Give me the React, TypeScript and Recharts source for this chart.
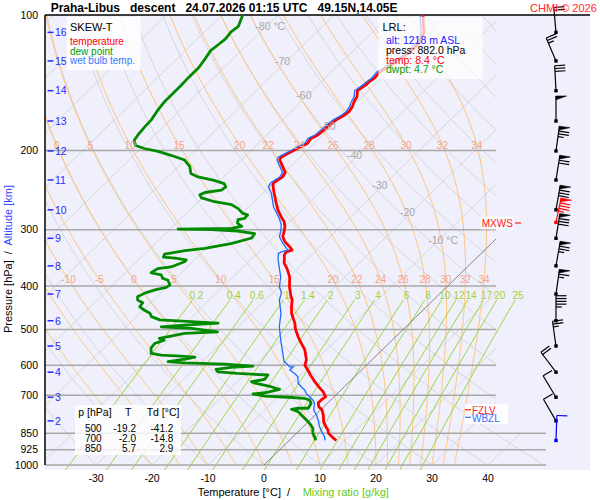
import React from 'react';
import { ComposedChart, Line, Scatter, XAxis, YAxis } from 'recharts';

// ---------------- data ----------------
// [pressure hPa, temperature °C], surface (LRL) upward
const temperatureProfile: [number, number][] = [
  [882, 8.4], [866, 7.0], [850, 5.7], [836, 5.0], [823, 4.1], [803, 2.8], [774, 1.4], [755, 0.3],
  [742, -0.9], [728, -1.7], [717, -1.7], [705, -1.5], [699, -2.0], [687, -2.9], [674, -4.2], [653, -6.2],
  [631, -8.2], [615, -9.6], [600, -11.0], [584, -11.7], [555, -13.8], [536, -15.7], [519, -17.4], [500, -19.2],
  [484, -20.5], [460, -22.9], [445, -24.1], [430, -25.2], [423, -26.0], [402, -28.1], [382, -29.9], [366, -31.9],
  [356, -33.4], [341, -34.9], [336, -35.1], [333, -34.4], [328, -35.3], [319, -37.2], [311, -38.5], [303, -39.2],
  [295, -40.0], [288, -41.0], [281, -42.4], [271, -44.3], [262, -45.8], [249, -48.0], [239, -49.7], [236, -50.0],
  [233, -49.8], [229, -49.5], [224, -49.8], [215, -51.9], [210, -53.1], [207, -53.4], [203, -52.8], [199, -52.2],
  [196, -51.8], [193, -51.2], [188, -51.5], [185, -50.9], [180, -50.7], [176, -50.7], [171, -50.4], [167, -49.8],
  [164, -49.6], [160, -49.9], [156, -50.5], [152, -50.9], [147, -52.0], [146, -51.8], [143, -51.5], [141, -51.5],
  [138, -51.2], [134, -51.4], [131, -51.0], [127, -50.4], [123, -49.8], [120, -49.6], [115, -49.7], [112, -50.3],
  [109, -50.8], [107, -51.6], [102, -53.4], [100, -54.1],
];

const wetBulbProfile: [number, number][] = [
  [882, 6.4], [865, 5.6], [843, 4.2], [822, 2.9], [794, 1.4], [774, 0.2], [755, -1.2], [729, -2.3],
  [717, -3.2], [705, -4.4], [693, -5.6], [681, -6.5], [670, -7.7], [658, -8.9], [637, -10.1], [626, -11.3],
  [615, -12.8], [605, -12.8], [605, -13.4], [594, -14.7], [589, -15.4], [565, -17.1], [537, -19.2], [528, -19.9],
  [493, -22.6], [460, -24.8], [430, -27.5], [415, -28.4], [402, -29.9], [382, -31.5], [363, -33.6], [350, -35.1],
  [339, -36.2], [336, -36.0], [333, -35.1], [330, -35.7], [322, -37.2], [311, -39.1], [303, -39.8], [293, -40.9],
  [283, -42.5], [267, -45.6], [249, -48.5], [241, -50.2], [236, -50.5], [233, -50.3], [229, -50.0], [224, -50.3],
  [215, -52.4], [210, -53.6], [207, -53.9], [203, -53.3], [199, -52.7], [196, -52.3], [193, -51.7], [188, -52.0],
  [185, -51.4], [180, -51.2], [176, -51.2], [171, -50.9], [167, -50.3], [164, -50.1], [160, -50.4], [156, -51.0],
  [152, -51.4], [147, -52.5], [146, -52.3], [143, -52.0], [141, -52.0], [138, -51.7], [134, -51.9], [131, -51.5],
  [127, -50.9], [123, -50.3], [120, -50.1], [115, -50.2], [112, -50.8], [109, -51.3], [107, -52.1], [102, -53.9],
  [100, -54.6],
];

const dewPointProfile: [number, number][] = [
  [882, 4.7], [873, 4.3], [850, 2.9], [829, 2.0], [808, 0.5], [794, -0.7], [774, -2.5], [761, -3.7],
  [752, -5.3], [748, -4.3], [748, -2.5], [729, -2.9], [717, -3.8], [711, -5.0], [707, -8.1], [703, -12.5],
  [695, -15.0], [691, -13.1], [679, -11.1], [670, -13.1], [658, -16.6], [653, -17.5], [645, -15.6], [631, -15.8],
  [626, -21.5], [621, -25.3], [613, -26.1], [607, -23.8], [603, -20.1], [597, -25.5], [593, -32.9], [589, -36.1],
  [582, -33.5], [576, -32.1], [573, -34.8], [570, -38.5], [565, -40.6], [550, -41.6], [537, -41.8], [528, -40.7],
  [523, -41.9], [510, -38.3], [506, -32.7], [497, -38.0], [493, -43.7], [489, -39.8], [484, -34.2], [476, -45.2],
  [468, -47.3], [460, -48.2], [453, -49.7], [445, -51.2], [436, -51.4], [430, -52.8], [423, -53.4], [415, -52.8],
  [408, -51.6], [403, -50.0], [398, -49.8], [388, -51.1], [385, -52.3], [378, -53.2], [374, -55.4], [366, -55.0],
  [363, -52.9], [353, -51.4], [350, -51.5], [347, -53.8], [345, -56.1], [340, -56.4], [334, -53.4], [330, -50.3],
  [322, -46.5], [313, -43.8], [306, -44.1], [302, -47.6], [300, -52.5], [299, -58.6], [298, -49.2], [295, -47.7],
  [290, -49.1], [285, -49.6], [283, -48.7], [278, -48.8], [276, -49.9], [269, -51.7], [264, -53.5], [260, -57.1],
  [255, -60.1], [251, -61.0], [248, -60.5], [245, -58.0], [241, -57.8], [237, -58.7], [233, -61.1], [229, -64.6],
  [225, -66.5], [217, -68.0], [210, -70.1], [205, -73.4], [201, -76.4], [198, -79.4], [195, -81.5], [190, -82.7],
  [185, -83.0], [177, -83.3], [171, -83.4], [163, -84.0], [155, -84.4], [149, -84.4], [144, -84.4], [139, -84.5],
  [136, -84.5], [131, -84.5], [126, -84.9], [120, -85.5], [116, -85.2], [113, -85.0], [109, -85.3], [106, -85.0],
  [100, -86.3],
];

const pressureTicks = [100, 200, 300, 400, 500, 600, 700, 850, 925, 1000];
const temperatureTicks = [-30, -20, -10, 0, 10, 20, 30, 40];
const isobarsUpper = [200, 300, 400, 500, 600, 700];
const isobarsLower = [850, 925, 1000];

const isotherms = [-120, -110, -100, -90, -80, -70, -60, -50, -40, -30, -20, -10, 10, 20, 30, 40, 50];
const isothermLabels = [-80, -70, -60, -50, -40, -30, -20, -10];
const isothermLabelP = [106, 127, 151, 177, 205, 239, 275, 316];
const dryAdiabats = [-40, -30, -20, -10, 0, 10, 20, 30, 40, 50, 60, 70, 80, 90, 100, 110, 120, 130, 140, 150, 160, 170, 180];
const moistAdiabats = [-20, -15, -10, -5, 0, 5, 10, 15, 20, 22, 24, 26, 28, 30, 32, 34];
const moistLabelsHigh = [0, 5, 10, 15, 20, 22, 24, 26, 28, 30, 32, 34];
const moistLabelsLow = [-10, -5, 0, 5, 10, 15, 20, 22, 24, 26, 28, 30, 32, 34];
const mixingRatios = [0.2, 0.4, 0.6, 1, 1.4, 2, 3, 4, 6, 8, 10, 12, 14, 17, 20, 25];

const altitudeKm = [16, 15, 14, 13, 12, 11, 10, 9, 8, 7, 6, 5, 4, 3, 2];
const altitudeP = [109.3, 126.5, 147.3, 172, 200.5, 232.6, 271, 313.5, 361, 417, 478, 544, 622, 707, 798];
const windDirection = [355, 337, 357, 0, 8, 9, 10, 9, 10, 8, 0, 352, 323, 329, 330];
const windSpeed = [20, 25, 30, 50, 75, 70, 80, 80, 75, 65, 45, 25, 20, 10, 10];
const maxWind = { p: 289, dir: 12, speed: 85 };
const lrlWind = { p: 882, dir: 2, speed: 10 };

const lrl = { alt: 1218, press: 882.0, temp: 8.4, dwpt: 4.7 };
const tableLevels = [500, 700, 850];
const tableT = [-19.2, -2.0, 5.7];
const tableTd = [-41.2, -14.8, 2.9];

// ---------------- diagram geometry ----------------
const SKEW = 82.5;
const X_MIN = -39.107;
const X_MAX = 58.214;
const X_EDGE = 41.43;
const X_EDGE_LOW = 50.36;
const P_TOP = 100;
const P_BOTTOM = 1025.9;
const BARB_X = 52.14;
const FONT = '"Liberation Sans", Arial, Helvetica, sans-serif';

type Pt = { x: number; p: number };
const skewX = (t: number, p: number) => t + SKEW * Math.log10(1000 / p);
const rightEdge = (p: number) => (p >= 850 ? X_EDGE_LOW : X_EDGE);
const inside = (pt: Pt) => pt.x >= X_MIN && pt.x <= rightEdge(pt.p);

function clipCurve(pts: Pt[]): Pt[][] {
  const segs: Pt[][] = [];
  let cur: Pt[] = [];
  const lerp = (a: Pt, b: Pt, t: number): Pt => ({
    x: a.x + (b.x - a.x) * t,
    p: Math.exp(Math.log(a.p) + (Math.log(b.p) - Math.log(a.p)) * t),
  });
  for (let i = 0; i < pts.length; i++) {
    const b = pts[i];
    const inB = inside(b);
    if (i > 0) {
      const a = pts[i - 1];
      const inA = inside(a);
      if (inA !== inB) {
        let lo = 0;
        let hi = 1;
        for (let k = 0; k < 40; k++) {
          const m = (lo + hi) / 2;
          if (inside(lerp(a, b, m)) === inA) lo = m;
          else hi = m;
        }
        const c = lerp(a, b, inA ? lo : hi);
        if (inA) {
          cur.push(c);
          if (cur.length > 1) segs.push(cur);
          cur = [];
        } else {
          cur = [c];
        }
      }
    }
    if (inB) cur.push(b);
  }
  if (cur.length > 1) segs.push(cur);
  return segs;
}

const levels: number[] = [];
for (let p = 1000; p >= 100; p -= 10) levels.push(p);

const RD = 287.04, CP = 1005.7, LV = 2.501e6, EPS = 0.622;
const satVap = (tc: number) => 6.112 * Math.exp((17.67 * tc) / (tc + 243.5));
const moistLapse = (tk: number, p: number) => {
  const e = satVap(tk - 273.15);
  const rs = (EPS * e) / (p - e);
  return (RD * tk + LV * rs) / (p * (CP + (LV * LV * rs * EPS) / (RD * tk * tk)));
};
function pseudoAdiabat(thetaW: number) {
  const out: { p: number; t: number }[] = [{ p: 1000, t: thetaW }];
  let tk = thetaW + 273.15;
  const dp = -2;
  for (let p = 1000; p > 100; p += dp) {
    const k1 = moistLapse(tk, p);
    const k2 = moistLapse(tk + 0.5 * dp * k1, p + 0.5 * dp);
    const k3 = moistLapse(tk + 0.5 * dp * k2, p + 0.5 * dp);
    const k4 = moistLapse(tk + dp * k3, p + dp);
    tk += (dp * (k1 + 2 * k2 + 2 * k3 + k4)) / 6;
    out.push({ p: p + dp, t: tk - 273.15 });
  }
  return out;
}
const tAt = (curve: { p: number; t: number }[], p: number) => {
  for (let i = 0; i < curve.length - 1; i++) {
    const a = curve[i];
    const b = curve[i + 1];
    if (a.p >= p && b.p <= p) return a.t + ((b.t - a.t) * (a.p - p)) / (a.p - b.p);
  }
  return curve[curve.length - 1].t;
};
const mixingT = (w: number, p: number) => {
  const e = (w * p) / (622 + w);
  const l = Math.log(e / 6.112);
  return (243.5 * l) / (17.67 - l);
};

const isothermSegs = isotherms.flatMap((t) => clipCurve(levels.map((p) => ({ x: skewX(t, p), p }))));
const zeroIsothermSegs = clipCurve(levels.map((p) => ({ x: skewX(0, p), p })));
const drySegs = dryAdiabats.flatMap((th) =>
  clipCurve(levels.map((p) => ({ x: skewX((th + 273.15) * Math.pow(p / 1000, 0.2857) - 273.15, p), p })))
);
const moistCurves = new Map<number, { p: number; t: number }[]>();
moistAdiabats.forEach((thw) => moistCurves.set(thw, pseudoAdiabat(thw)));
const moistSegs = moistAdiabats.flatMap((thw) =>
  clipCurve(
    (moistCurves.get(thw) as { p: number; t: number }[])
      .filter((_, i) => i % 2 === 0)
      .map((d) => ({ x: skewX(d.t, d.p), p: d.p }))
  )
);
const mixingLevels: number[] = [];
for (let p = 1025; p > 430; p -= 15) mixingLevels.push(p);
mixingLevels.push(430);
const mixingLines = mixingRatios.map((w) => mixingLevels.map((p) => ({ x: skewX(mixingT(w, p), p), p })));

const isobarLines = [
  ...isobarsUpper.map((p) => [{ x: X_MIN, p }, { x: X_EDGE, p }]),
  ...isobarsLower.map((p) => [{ x: X_MIN, p }, { x: X_EDGE_LOW, p }]),
];
const topBorder = [{ x: X_MIN, p: P_TOP }, { x: X_MAX, p: P_TOP }];
const leftBorder = [{ x: X_MIN, p: P_TOP }, { x: X_MIN, p: 1000 }];

const toXY = (prof: [number, number][]) => prof.map(([p, t]) => ({ x: skewX(t, p), p }));

const P_LABEL_HIGH = 194.5;
const P_LABEL_LOW = 387.7;
const moistLabelData = [
  ...moistLabelsHigh.map((thw) => ({
    x: skewX(tAt(moistCurves.get(thw) as any, P_LABEL_HIGH), P_LABEL_HIGH),
    p: P_LABEL_HIGH,
    text: String(thw),
  })),
  ...moistLabelsLow.map((thw) => ({
    x: skewX(tAt(moistCurves.get(thw) as any, P_LABEL_LOW), P_LABEL_LOW),
    p: P_LABEL_LOW,
    text: String(thw),
  })),
].filter((d) => d.x > X_MIN + 0.8 && d.x < X_EDGE);

const P_MIX_LABEL = 419;
const mixingLabelData = mixingRatios.map((w) => ({
  x: skewX(mixingT(w, P_MIX_LABEL), P_MIX_LABEL),
  p: P_MIX_LABEL,
  text: String(w),
}));

const isothermLabelData = isothermLabels.map((t, i) => ({
  x: skewX(t, isothermLabelP[i]),
  p: isothermLabelP[i],
  text: i === 0 || i === isothermLabels.length - 1 ? `${t} °C` : String(t),
}));

const altitudeData = altitudeKm.map((km, i) => ({ x: X_MIN, p: altitudeP[i], km }));

const barbData = [
  ...altitudeKm.map((_, i) => ({ x: BARB_X, p: altitudeP[i], dir: windDirection[i], speed: windSpeed[i], kind: 'n' })),
  { x: BARB_X, p: maxWind.p, dir: maxWind.dir, speed: maxWind.speed, kind: 'max' },
  { x: BARB_X, p: lrlWind.p, dir: lrlWind.dir, speed: lrlWind.speed, kind: 'lrl' },
];

// ---------------- shapes ----------------
const makeLabel = (color: string, size: number, anchor: 'start' | 'middle', dx: number) => (props: any) => {
  const { cx, cy, payload } = props;
  if (cx == null || cy == null) return <g />;
  return (
    <text x={cx + dx} y={cy + size * 0.36} textAnchor={anchor} fontSize={size} fill={color} fontFamily={FONT}>
      {payload.text}
    </text>
  );
};
const MoistLabel = makeLabel('#f4a386', 10, 'middle', 0);
const MixLabel = makeLabel('#9cd13c', 10, 'middle', 0);
const IsoLabel = makeLabel('#a6a6a6', 10.5, 'start', -11);

const AltTick = (props: any) => {
  const { cx, cy, payload } = props;
  if (cx == null || cy == null) return <g />;
  return (
    <g>
      <line x1={cx + 2.5} x2={cx + 8.5} y1={cy} y2={cy} stroke="#2a2aff" strokeWidth={1.5} />
      <text x={cx + 10} y={cy + 3.8} fontSize={10.5} fill="#2a2aff" fontFamily={FONT}>
        {payload.km}
      </text>
    </g>
  );
};

const Barb = (props: any) => {
  const { cx, cy, payload } = props;
  if (cx == null || cy == null) return <g />;
  const color = payload.kind === 'max' ? '#ff0000' : payload.kind === 'lrl' ? '#0000ff' : '#000000';
  const L = 25, F = 10.5, G = 2.8, PW = 3.8;
  const r = (payload.dir * Math.PI) / 180;
  const ux = Math.sin(r);
  const uy = -Math.cos(r);
  const nx = -uy;
  const ny = ux;
  const tx = cx + ux * L;
  const ty = cy + uy * L;
  const at = (d: number) => [tx - ux * d, ty - uy * d];
  let s = Math.round(payload.speed / 5) * 5;
  const n50 = Math.floor(s / 50);
  s -= n50 * 50;
  const n10 = Math.floor(s / 10);
  s -= n10 * 10;
  const n5 = s >= 5 ? 1 : 0;
  const parts: React.ReactNode[] = [];
  let d = 0;
  for (let i = 0; i < n50; i++) {
    const [x1, y1] = at(d);
    const [x2, y2] = at(d + PW);
    parts.push(
      <polygon key={'f' + i} points={`${x1},${y1} ${x1 + nx * F},${y1 + ny * F} ${x2},${y2}`} fill={color} stroke={color} strokeWidth={0.6} />
    );
    d += PW + 1.2;
  }
  for (let i = 0; i < n10; i++) {
    const [x1, y1] = at(d);
    parts.push(<line key={'b' + i} x1={x1} y1={y1} x2={x1 + nx * F} y2={y1 + ny * F} stroke={color} strokeWidth={1.2} />);
    d += G;
  }
  if (n5) {
    if (n50 + n10 === 0) d = G;
    const [x1, y1] = at(d);
    parts.push(<line key="h" x1={x1} y1={y1} x2={x1 + nx * F * 0.55} y2={y1 + ny * F * 0.55} stroke={color} strokeWidth={1.2} />);
  }
  return (
    <g>
      <line x1={cx} y1={cy} x2={tx} y2={ty} stroke={color} strokeWidth={1.2} />
      {parts}
      <rect x={cx - 1.7} y={cy - 1.7} width={3.4} height={3.4} fill={color} />
    </g>
  );
};

const lineProps = { dataKey: 'p', dot: false, activeDot: false, isAnimationActive: false, legendType: 'none' as const };

export default function App() {
  return (
    <div style={{ position: 'absolute', left: 0, top: 0, width: 600, height: 500, background: '#ffffff', fontFamily: FONT }}>
      <div style={{ position: 'absolute', left: 45, top: 15, width: 545, height: 455, background: '#f0f0fc' }} />
      <ComposedChart width={600} height={500} margin={{ top: 15, right: 10, bottom: 0, left: 0 }}>
        <XAxis
          type="number"
          dataKey="x"
          domain={[X_MIN, X_MAX]}
          ticks={temperatureTicks}
          interval={0}
          height={30}
          axisLine={false}
          tickLine={false}
          tickSize={3}
          tickMargin={2}
          tick={{ fontSize: 10.5, fill: '#000', fontFamily: FONT }}
        />
        <YAxis
          type="number"
          dataKey="p"
          scale="log"
          domain={[P_TOP, P_BOTTOM]}
          reversed
          ticks={pressureTicks}
          interval={0}
          width={45}
          axisLine={false}
          tickLine={false}
          tickSize={5}
          tickMargin={2}
          tick={{ fontSize: 10.5, fill: '#000', fontFamily: FONT }}
        />
        {isothermSegs.map((seg, i) => (
          <Line key={'iso' + i} data={seg} {...lineProps} stroke="#d2d2d8" strokeWidth={0.9} />
        ))}
        {drySegs.map((seg, i) => (
          <Line key={'dry' + i} data={seg} {...lineProps} stroke="#d2d2d8" strokeWidth={0.9} />
        ))}
        {moistSegs.map((seg, i) => (
          <Line key={'moist' + i} data={seg} {...lineProps} stroke="#ffc47c" strokeWidth={1} />
        ))}
        {mixingLines.map((seg, i) => (
          <Line key={'mix' + i} data={seg} {...lineProps} stroke="#9ed63c" strokeWidth={1} />
        ))}
        {isobarLines.map((seg, i) => (
          <Line key={'isobar' + i} data={seg} {...lineProps} stroke="#a8a8a8" strokeWidth={1.5} />
        ))}
        {zeroIsothermSegs.map((seg, i) => (
          <Line key={'zero' + i} data={seg} {...lineProps} stroke="#6a6a6a" strokeWidth={0.8} />
        ))}
        <Line data={topBorder} {...lineProps} stroke="#000" strokeWidth={1.5} />
        <Line data={leftBorder} {...lineProps} stroke="#000" strokeWidth={1.5} />
        <Line data={toXY(dewPointProfile)} {...lineProps} stroke="#008a00" strokeWidth={2.8} strokeLinejoin="round" />
        <Line data={toXY(temperatureProfile)} {...lineProps} stroke="#ff0000" strokeWidth={2.8} strokeLinejoin="round" />
        <Line data={toXY(wetBulbProfile)} {...lineProps} stroke="#1f6bff" strokeWidth={1.3} />
        <Scatter data={moistLabelData} shape={MoistLabel} isAnimationActive={false} legendType="none" />
        <Scatter data={mixingLabelData} shape={MixLabel} isAnimationActive={false} legendType="none" />
        <Scatter data={isothermLabelData} shape={IsoLabel} isAnimationActive={false} legendType="none" />
        <Scatter data={altitudeData} shape={AltTick} isAnimationActive={false} legendType="none" />
        <Scatter data={barbData} shape={Barb} isAnimationActive={false} legendType="none" />
      </ComposedChart>
      <svg width={600} height={500} style={{ position: 'absolute', left: 0, top: 0, pointerEvents: 'none' }} fontFamily={FONT}>
        <defs>
          <clipPath id="fzlvclip">
            <rect x={460} y={406.3} width={60} height={20} />
          </clipPath>
        </defs>
        <text x={50.7} y={11.7} fontSize={12} fontWeight="bold" fill="#000" style={{ whiteSpace: 'pre' }}>
          {'Praha-Libus   descent   24.07.2026 01:15 UTC   49.15N,14.05E'}
        </text>
        <text x={530} y={11.5} fontSize={11} fill="#ff2a2a">
          CHMI © 2026
        </text>

        <rect x={66.7} y={16.7} width={74} height={53.3} fill="#ffffff" fillOpacity={0.85} />
        <text x={70} y={30.5} fontSize={11} fill="#000">SKEW-T</text>
        <text x={70} y={45} fontSize={10} fill="#ff0000">temperature</text>
        <text x={70} y={54.5} fontSize={10} fill="#009a00">dew point</text>
        <text x={70} y={64} fontSize={10} fill="#3377ff">wet bulb temp.</text>

        <rect x={378.3} y={16.7} width={104.4} height={62.3} fill="#ffffff" fillOpacity={0.72} />
        <text x={382.5} y={30.5} fontSize={11} fill="#000">LRL:</text>
        <text x={386} y={43.5} fontSize={10.5} fill="#2222ff">{`alt: ${lrl.alt} m ASL`}</text>
        <text x={386} y={53.5} fontSize={10.5} fill="#000">{`press: ${lrl.press.toFixed(1)} hPa`}</text>
        <text x={386} y={63.5} fontSize={10.5} fill="#ff0000">{`temp: ${lrl.temp.toFixed(1)} °C`}</text>
        <text x={386} y={73.3} fontSize={10.5} fill="#009a00">{`dwpt: ${lrl.dwpt.toFixed(1)} °C`}</text>

        <rect x={75} y={405} width={106} height={50} fill="#ffffff" fillOpacity={0.8} />
        <text x={78.3} y={416} fontSize={10.5} fill="#000">p [hPa]</text>
        <text x={125} y={416} fontSize={10.5} fill="#000">T</text>
        <text x={146.7} y={416} fontSize={10.5} fill="#000">Td [°C]</text>
        {tableLevels.map((lv, i) => (
          <g key={'row' + lv}>
            <text x={101.7} y={431.7 + i * 10} fontSize={10} textAnchor="end" fill="#000">{String(lv)}</text>
            <text x={136} y={431.7 + i * 10} fontSize={10} textAnchor="end" fill="#000">{tableT[i].toFixed(1)}</text>
            <text x={173.3} y={431.7 + i * 10} fontSize={10} textAnchor="end" fill="#000">{tableTd[i].toFixed(1)}</text>
          </g>
        ))}

        <rect x={480.5} y={216.5} width={33} height={13} fill="#ffffff" fillOpacity={0.7} />
        <text x={481.7} y={227.3} fontSize={10} fill="#ff2020">MXWS</text>
        <line x1={515} x2={521} y1={223} y2={223} stroke="#ff2020" strokeWidth={1.2} />

        <rect x={465} y={404} width={43} height={20} fill="#ffffff" fillOpacity={0.85} />
        <line x1={465} x2={471} y1={409.7} y2={409.7} stroke="#ff2020" strokeWidth={1.2} />
        <line x1={465} x2={471} y1={417.3} y2={417.3} stroke="#3070ff" strokeWidth={1.2} />
        <text x={472} y={413.8} fontSize={10} fill="#ff2020" clipPath="url(#fzlvclip)">FZLV</text>
        <text x={472} y={421.5} fontSize={10} fill="#3070ff">WBZL</text>

        <text x={197.7} y={496} fontSize={11} fill="#000" style={{ whiteSpace: 'pre' }}>{'Temperature [°C]  /'}</text>
        <text x={302.7} y={496} fontSize={11} fill="#66cc22">Mixing ratio [g/kg]</text>
        <text transform="translate(11.5,333) rotate(-90)" fontSize={11} style={{ whiteSpace: 'pre' }}>
          <tspan fill="#000">{'Pressure [hPa]  /  '}</tspan>
          <tspan fill="#3344ff">Altitude [km]</tspan>
        </text>
      </svg>
    </div>
  );
}
